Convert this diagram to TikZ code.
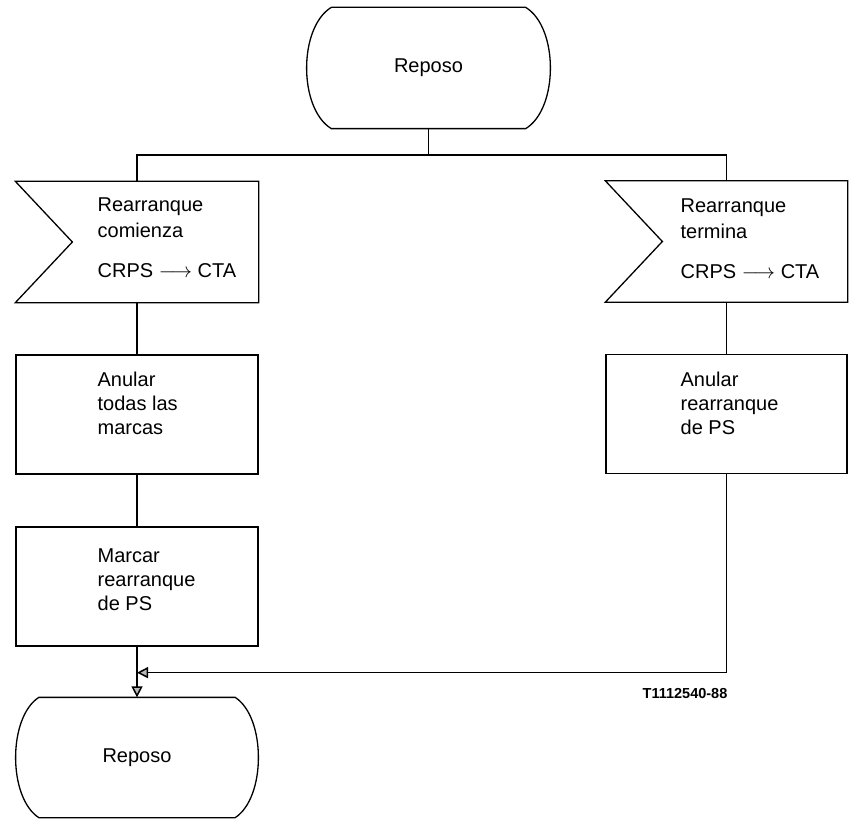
\documentclass[tikz,border=0pt]{standalone}
\usepackage{fontspec}
\setmainfont{Liberation Sans}
\usetikzlibrary{arrows.meta,calc}
\begin{document}
\begin{tikzpicture}[x=1pt,y=-1pt,line width=1.3pt,
  shapebox/.style={draw=none,inner sep=0,minimum width=#1,minimum height=120},
  procbox/.style={draw,inner sep=0,minimum width=242,minimum height=119},
  txt/.style={font=\fontsize{20}{24}\selectfont,align=left,anchor=north west,inner sep=0},
  intxt/.style={txt,font=\fontsize{20}{26}\selectfont},
  statetxt/.style={font=\fontsize{20}{25}\selectfont},
  arr/.style={line width=1.5pt,-{Triangle[width=11pt,length=11pt,fill=gray!55]}},
  code/.style={font=\fontsize{14.5}{17}\selectfont\bfseries,anchor=base east,inner sep=0}]
\useasboundingbox (0,0) rectangle (851,821);
% states
\node[shapebox=193,statetxt] (s1) at (428.5,68) {Reposo};
\draw (s1.north west) -- (s1.north east) .. controls +(33,20) and +(33,-20) .. (s1.south east)
  -- (s1.south west) .. controls +(-33,-20) and +(-33,20) .. (s1.north west);
\node[shapebox=195,minimum height=119,statetxt] (s2) at (137,757.5) {Reposo};
\draw (s2.north west) -- (s2.north east) .. controls +(31,20) and +(31,-20) .. (s2.south east)
  -- (s2.south west) .. controls +(-31,-20) and +(-31,20) .. (s2.north west);
% inputs
\node[shapebox=242] (i1) at (137,242) {};
\draw (i1.north west) -- (i1.north east) -- (i1.south east) -- (i1.south west) -- ($(i1.west)+(57,0)$) -- cycle;
\node[shapebox=241] (i2) at (726.5,241.5) {};
\draw (i2.north west) -- (i2.north east) -- (i2.south east) -- (i2.south west) -- ($(i2.west)+(57,0)$) -- cycle;
\node[intxt] (t1) at (97,197) {Rearranque\\comienza\\[14pt]CRPS $\longrightarrow$ CTA};
\node[intxt] (t2) at (680,198) {Rearranque\\termina\\[14pt]CRPS $\longrightarrow$ CTA};
% tasks
\node[procbox] (b1) at (137,414.5) {};
\node[txt] (t3) at (97,371) {Anular\\todas las\\marcas};
\node[procbox] (b2) at (137,586.5) {};
\node[txt] (t4) at (97,548) {Marcar\\rearranque\\de PS};
\node[procbox,minimum width=241] (b3) at (726.5,414) {};
\node[txt] (t5) at (680,371) {Anular\\rearranque\\de PS};
% connectors
\coordinate (j1) at (428.5,155);
\draw (s1.south) -- (j1);
\draw (i1.north) |- (j1) -| (i2.north);
\draw (i1.south) -- (b1.north);
\draw (b1.south) -- (b2.north);
\draw (i2.south) -- (b3.north);
\coordinate (m) at ($(b2.south)+(0,26)$);
\draw[arr] (b2.south) -- (s2.north);
\draw[arr] (b3.south) |- (m);
\node[code] (lab) at (728,698) {T1112540-88};
\end{tikzpicture}
\end{document}
